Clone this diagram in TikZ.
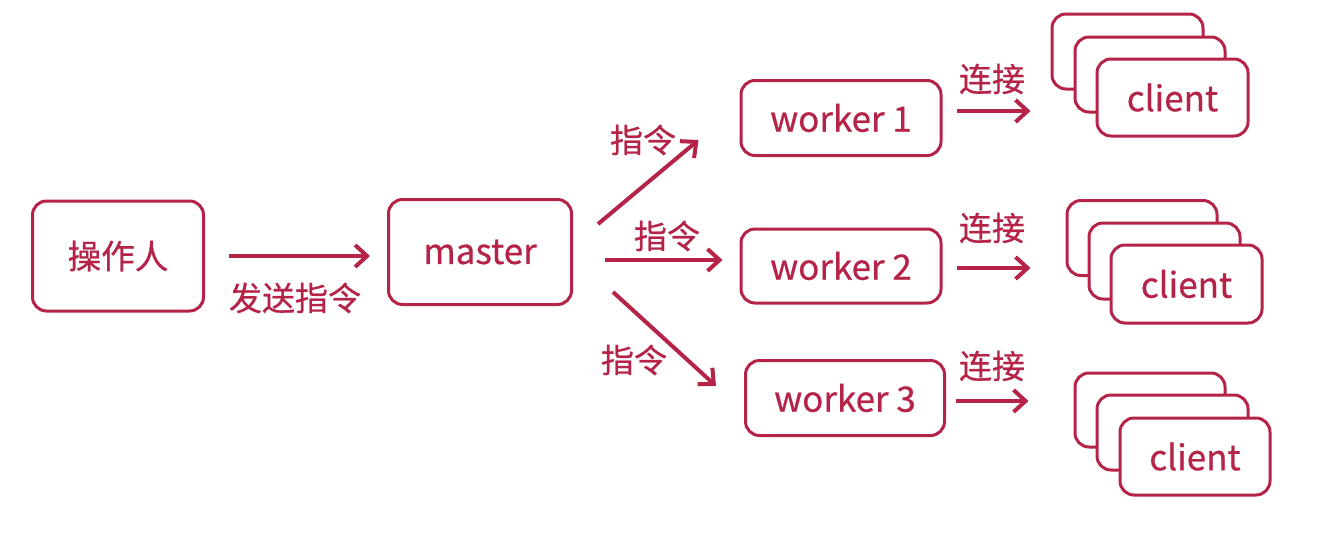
\documentclass[tikz,border=0pt]{standalone}
\usepackage{fontspec}
\setmainfont{Noto Sans CJK SC}[UprightFeatures={FakeBold=0.6}]
\usetikzlibrary{arrows.meta}
\definecolor{boxred}{RGB}{181,36,72}
\begin{document}
\begin{tikzpicture}[x=0.5pt,y=-0.5pt,
  font=\fontsize{16.5pt}{20pt}\selectfont,
  box/.style={rectangle,draw=boxred,line width=1.5pt,rounded corners=7pt,fill=white,text=boxred,inner sep=0pt,font=\fontsize{17.5pt}{20pt}\selectfont},
  arrow/.style={draw=boxred,line width=2pt,-{Straight Barb[length=6pt,width=11pt,line width=2pt]}},
  lbl/.style={text=boxred,inner sep=0pt}]
  \useasboundingbox (0,0) rectangle (1317,541);
  % draw operator and master boxes
  \node at(118,256)[box,minimum width=85.5pt,minimum height=55pt,font=\fontsize{16.8pt}{20pt}\selectfont](op){操作人};
  \node at(480,252)[box,minimum width=91.5pt,minimum height=52.5pt](master){master};
  % draw worker boxes
  \node at(841,118)[box,minimum width=100pt,minimum height=37.5pt](w1){worker 1};
  \node at(841,266)[box,minimum width=100pt,minimum height=37pt](w2){worker 2};
  \node at(845,398)[box,minimum width=99.5pt,minimum height=37.5pt](w3){worker 3};
  % draw client stack 1
  \node at(1127.5,51.5)[box,minimum width=75.5pt,minimum height=37.5pt](c1back){};
  \node at(1150,74.5)[box,minimum width=75pt,minimum height=37.5pt](c1mid){};
  \node at(1172.5,97.5)[box,minimum width=75.5pt,minimum height=38.5pt](c1front){client};
  % draw client stack 2
  \node at(1142,238)[box,minimum width=75pt,minimum height=37.5pt](c2back){};
  \node at(1164.5,261)[box,minimum width=75.5pt,minimum height=38pt](c2mid){};
  \node at(1186.5,284)[box,minimum width=75.5pt,minimum height=39pt](c2front){client};
  % draw client stack 3
  \node at(1150,410)[box,minimum width=75pt,minimum height=37pt](c3back){};
  \node at(1172.5,432.5)[box,minimum width=75.5pt,minimum height=37.5pt](c3mid){};
  \node at(1195,456.5)[box,minimum width=75pt,minimum height=38.5pt](c3front){client};
  % draw arrow from operator to master
  \draw[arrow,shorten <=12pt,shorten >=8.5pt](op.east) -- (op.east -| master.west);
  \node at(295,298)[lbl](send){发送指令};
  % draw arrows from master to workers
  \draw[arrow]([xshift=12.5pt,yshift=14pt]master.east) -- ([xshift=-20.5pt,yshift=-11pt]w1.west);
  \draw[arrow]([xshift=16pt,yshift=-4pt]master.east) -- ([xshift=-8.5pt,yshift=3pt]w2.west);
  \draw[arrow]([xshift=20pt,yshift=-20pt]master.east) -- ([xshift=-14pt,yshift=6pt]w3.west);
  \node at(643,140)[lbl](cmd1){指令};
  \node at(667,236)[lbl](cmd2){指令};
  \node at(634,360)[lbl](cmd3){指令};
  % draw arrows from workers to clients
  \draw[arrow,shorten <=7pt,shorten >=10pt]([yshift=3.5pt]w1.east) -- ([yshift=3.5pt]w1.east -| c1back.west);
  \draw[arrow,shorten <=7pt,shorten >=17.5pt]([yshift=-1pt]w2.east) -- ([yshift=-1pt]w2.east -| c2back.west);
  \draw[arrow,shorten <=5pt,shorten >=22.5pt]([yshift=-1.5pt]w3.east) -- ([yshift=-1.5pt]w3.east -| c3back.west);
  \node at(992,79)[lbl](link1){连接};
  \node at(992,228)[lbl](link2){连接};
  \node at(992,366)[lbl](link3){连接};
\end{tikzpicture}
\end{document}
